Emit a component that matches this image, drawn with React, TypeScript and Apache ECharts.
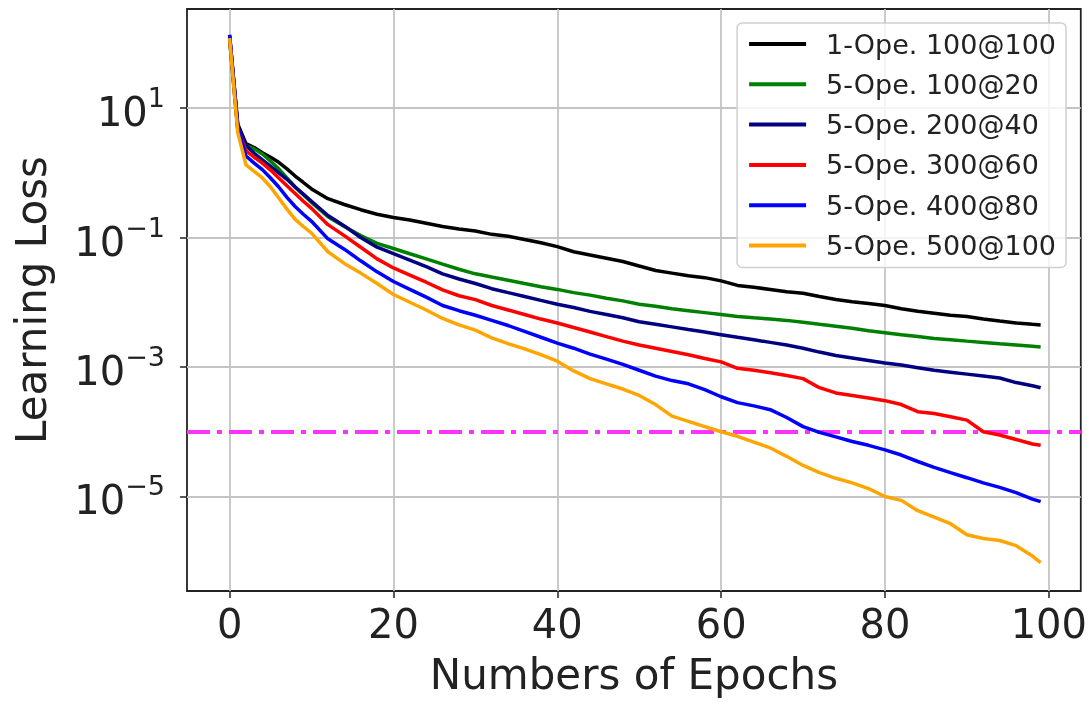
import React, { useEffect, useRef } from "react";
import * as echarts from "echarts";

const epochs = [0, 1, 2, 3, 4, 5, 6, 7, 8, 9, 10, 12, 14, 16, 18, 20, 22, 24, 26, 28, 30, 32, 34, 36, 38, 40, 42, 44, 46, 48, 50, 52, 54, 56, 58, 60, 62, 64, 66, 68, 70, 72, 74, 76, 78, 80, 82, 84, 86, 88, 90, 92, 94, 96, 98, 99];

const ope1_100at100 = [126, 5.62, 2.82, 2.45, 2.04, 1.74, 1.45, 1.15, 0.891, 0.708, 0.562,
  0.398, 0.324, 0.269, 0.229, 0.204,
  0.186, 0.166, 0.148, 0.135, 0.126,
  0.112, 0.105, 0.0933, 0.0832, 0.0724,
  0.0603, 0.0537, 0.0479, 0.0427, 0.0363,
  0.0309, 0.0282, 0.0257, 0.024, 0.0214,
  0.0182, 0.017, 0.0158, 0.0145, 0.0138,
  0.0123, 0.011, 0.0102, 0.00955, 0.00891,
  0.00794, 0.00724, 0.00676, 0.00631, 0.00603,
  0.0055, 0.00513, 0.00479, 0.00457,
  0.00447];

const ope5_100at20 = [112, 4.47, 2.63, 2.34, 1.95, 1.51, 1.15, 0.832, 0.603, 0.457, 0.347,
  0.209, 0.148, 0.107, 0.0813, 0.0676,
  0.0562, 0.0468, 0.0389, 0.0324, 0.0275,
  0.0245, 0.0219, 0.0195, 0.0174, 0.0158,
  0.0141, 0.0129, 0.0115, 0.0105, 0.00933,
  0.00871, 0.00794, 0.00741, 0.00692, 0.00646,
  0.00603, 0.00575, 0.0055, 0.00525, 0.0049,
  0.00457, 0.00427, 0.00398, 0.00363, 0.00339,
  0.00316, 0.00295, 0.00275, 0.00263, 0.00251,
  0.0024, 0.00229, 0.00219, 0.00209,
  0.00204];

const ope5_200at40 = [135, 5.25, 2.63, 2.0, 1.58, 1.26, 1.0, 0.794, 0.603, 0.468, 0.363,
  0.219, 0.151, 0.1, 0.0708, 0.0562,
  0.0447, 0.0355, 0.0275, 0.0229, 0.0195,
  0.0162, 0.0141, 0.0123, 0.0107, 0.00933,
  0.00832, 0.00724, 0.00646, 0.00575, 0.00501,
  0.00457, 0.00417, 0.0038, 0.00347, 0.00316,
  0.00288, 0.00263, 0.0024, 0.00219, 0.00195,
  0.0017, 0.00151, 0.00138, 0.00126, 0.00115,
  0.00107, 0.000977, 0.000891, 0.000832, 0.000776,
  0.000724, 0.000676, 0.000575, 0.000513,
  0.000479];

const ope5_300at60 = [120, 4.79, 2.19, 1.74, 1.41, 1.1, 0.832, 0.631, 0.479, 0.363, 0.282,
  0.158, 0.107, 0.0708, 0.0468, 0.0339,
  0.0263, 0.0204, 0.0155, 0.0126, 0.011,
  0.00891, 0.00759, 0.00646, 0.0055, 0.00479,
  0.00407, 0.00347, 0.00295, 0.00251, 0.00219,
  0.00195, 0.00174, 0.00155, 0.00135, 0.0012,
  0.000955, 0.000891, 0.000813, 0.000741, 0.000661,
  0.000479, 0.000398, 0.000363, 0.000331, 0.000302,
  0.000263, 0.000204, 0.000191, 0.00017, 0.000151,
  0.0001, 0.0000891, 0.0000759, 0.0000646,
  0.0000617];

const ope5_400at80 = [135, 5.01, 1.82, 1.41, 1.12, 0.832, 0.603, 0.417, 0.302, 0.229, 0.178,
  0.0955, 0.0661, 0.0437, 0.0295, 0.0209,
  0.0158, 0.012, 0.00891, 0.00741, 0.00631,
  0.00525, 0.00437, 0.00355, 0.00288, 0.00234,
  0.00195, 0.00158, 0.00132, 0.0011, 0.000891,
  0.000724, 0.000617, 0.00055, 0.000447, 0.000347,
  0.000282, 0.000251, 0.000219, 0.000166, 0.00012,
  0.0000977, 0.0000832, 0.0000708, 0.0000617, 0.0000525,
  0.0000437, 0.0000347, 0.0000282, 0.0000234, 0.0000195,
  0.0000162, 0.0000138, 0.0000115, 0.00000912,
  0.00000832];

const ope5_500at100 = [120, 4.17, 1.32, 1.05, 0.832, 0.603, 0.407, 0.275, 0.191, 0.148, 0.117,
  0.0603, 0.0398, 0.0282, 0.0195, 0.0132,
  0.01, 0.00759, 0.00562, 0.00447, 0.00372,
  0.00282, 0.00229, 0.00191, 0.00155, 0.00123,
  0.000871, 0.000661, 0.00055, 0.000457, 0.000363,
  0.000263, 0.000174, 0.000145, 0.00012, 0.0001,
  0.0000851, 0.0000692, 0.0000562, 0.0000417, 0.0000302,
  0.0000234, 0.0000191, 0.0000162, 0.0000132, 0.00001,
  0.00000871, 0.00000603, 0.00000479, 0.0000038, 0.00000257,
  0.00000224, 0.00000209, 0.00000174, 0.0000012,
  0.000000955];

const seriesNames = ["1-Ope. 100@100", "5-Ope. 100@20", "5-Ope. 200@40", "5-Ope. 300@60", "5-Ope. 400@80", "5-Ope. 500@100"];
const seriesValues = [ope1_100at100, ope5_100at20, ope5_200at40, ope5_300at60, ope5_400at80, ope5_500at100];
const seriesColors = ["#000000", "#008000", "#000080", "#ff0000", "#0000ff", "#ffa500"];

const xTicks = [0, 20, 40, 60, 80, 100];
const yTickExponents = [-5, -3, -1, 1];
const thresholdLoss = 1e-4;

const FONT = "DejaVu Sans";

export default function App() {
  const ref = useRef<HTMLDivElement>(null);
  useEffect(() => {
    if (!ref.current) return;
    const chart = echarts.init(ref.current, undefined, { renderer: "svg" });
    const series: any[] = seriesNames.map((name, i) => ({
      name,
      type: "line",
      showSymbol: false,
      symbol: "none",
      data: epochs.map((e, j) => [e, Math.log10(seriesValues[i][j])]),
      lineStyle: { color: seriesColors[i], width: 3.5 },
      itemStyle: { color: seriesColors[i] },
      z: 3 + i,
    }));
    series.push({
      name: "threshold",
      type: "line",
      data: [],
      silent: true,
      z: 20,
      markLine: {
        silent: true,
        symbol: "none",
        animation: false,
        label: { show: false },
        lineStyle: { color: "#ff33ff", width: 4, type: [23, 7, 5, 7] },
        data: [{ yAxis: Math.log10(thresholdLoss) }],
      },
    });
    chart.setOption({
      animation: false,
      grid: {
        left: 187,
        right: 9,
        top: 9,
        bottom: 111,
        show: true,
        borderColor: "#222",
        borderWidth: 1.8,
        backgroundColor: "transparent",
      },
      legend: {
        data: seriesNames,
        orient: "vertical",
        right: 24,
        top: 23,
        icon: "rect",
        itemWidth: 57,
        itemHeight: 4,
        itemGap: 10.3,
        padding: [6, 10, 7, 12],
        backgroundColor: "rgba(255,255,255,0.8)",
        borderColor: "#d0d0d0",
        borderWidth: 1.5,
        borderRadius: 5,
        textStyle: {
          fontFamily: FONT,
          fontSize: 27,
          lineHeight: 30,
          color: "#222",
          padding: [0, 0, 0, 15],
        },
        z: 30,
      },
      xAxis: {
        type: "value",
        min: -5.2,
        max: 103.9,
        name: "Numbers of Epochs",
        nameLocation: "middle",
        nameGap: 62,
        nameTextStyle: { fontFamily: FONT, fontSize: 42, color: "#222" },
        axisLine: { show: false, onZero: false },
        axisTick: { show: true, customValues: xTicks, length: 7, lineStyle: { color: "#222", width: 1.5 } },
        axisLabel: {
          customValues: xTicks,
          margin: 13,
          fontFamily: FONT,
          fontSize: 40,
          color: "#222",
        },
        splitLine: { show: true, lineStyle: { color: "#c4c4c4", width: 1.8 } },
      },
      yAxis: {
        type: "value",
        min: -6.46,
        max: 2.53,
        name: "Learning Loss",
        nameLocation: "middle",
        nameGap: 135,
        nameTextStyle: { fontFamily: FONT, fontSize: 42, color: "#222" },
        axisLine: { show: false, onZero: false },
        axisTick: { show: true, customValues: yTickExponents, length: 7, lineStyle: { color: "#222", width: 1.5 } },
        axisLabel: {
          customValues: yTickExponents,
          margin: 22,
          fontFamily: FONT,
          color: "#222",
          formatter: (v: number) => {
            const n = Math.round(v);
            return `{b|10}{s|${n < 0 ? "\u2212" : ""}${Math.abs(n)}}`;
          },
          rich: {
            b: { fontFamily: FONT, fontSize: 40, lineHeight: 48, verticalAlign: "bottom", color: "#222" },
            s: { fontFamily: FONT, fontSize: 27, lineHeight: 27, verticalAlign: "top", color: "#222" },
          },
        },
        splitLine: { show: true, lineStyle: { color: "#c4c4c4", width: 1.8 } },
      },
      series,
    });
    return () => chart.dispose();
  }, []);
  return <div ref={ref} style={{ position: "fixed", left: 0, top: 0, width: 1090, height: 702 }} />;
}
